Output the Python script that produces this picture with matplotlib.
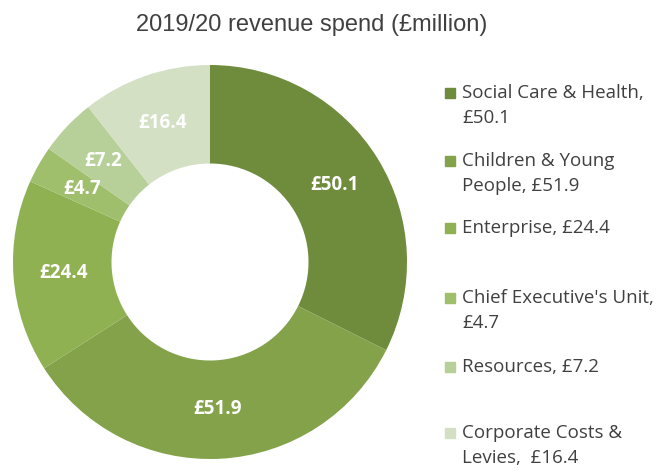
import numpy as np
import matplotlib.pyplot as plt
from matplotlib.patches import Rectangle

# data
labels = ["Social Care & Health,\n£50.1", "Children & Young\nPeople, £51.9", "Enterprise, £24.4",
          "Chief Executive's Unit,\n£4.7", "Resources, £7.2", "Corporate Costs &\nLevies,  £16.4"]
values = [50.1, 51.9, 24.4, 4.7, 7.2, 16.4]
colors = ['#6f8b3c', '#83a24a', '#8fb152', '#9fbf6c', '#b7cf98', '#d4e0c3']

fig = plt.figure(figsize=(6.64, 4.70), dpi=100)
ax = fig.add_axes([13/664, 1-459/470, 394/664, 394/470])

wedges, texts = ax.pie(values, colors=colors, startangle=90, counterclock=False,
                       wedgeprops=dict(width=0.5, edgecolor='none'), radius=1.0)
for w, v in zip(wedges, values):
    ang = np.deg2rad((w.theta1 + w.theta2) / 2)
    r = 0.745
    ax.text(r*np.cos(ang), r*np.sin(ang), '£%.1f' % v, ha='center', va='center',
            color='white', fontsize=13.5, fontweight='bold', family='Open Sans')
ax.set_xlim(-1, 1)
ax.set_ylim(-1, 1)
ax.set_aspect('equal')
ax.axis('off')

fig.text(312/664, 1-25/470, '2019/20 revenue spend (£million)', ha='center', va='center',
         fontsize=17, color='#404040', family='Liberation Sans')

# legend, positioned by hand
ys = [93, 161, 228, 298, 367, 433]
for y, lab, c in zip(ys, labels, colors):
    fig.patches.append(Rectangle((445/664, 1-(y+5)/470), 10/664, 10/470,
                                 transform=fig.transFigure, color=c))
    fig.text(462/664, 1-(y-9)/470, lab, ha='left', va='top', fontsize=13.5,
             color='#404040', family='Open Sans', linespacing=1.5)

fig.savefig('out.png', dpi=100)
